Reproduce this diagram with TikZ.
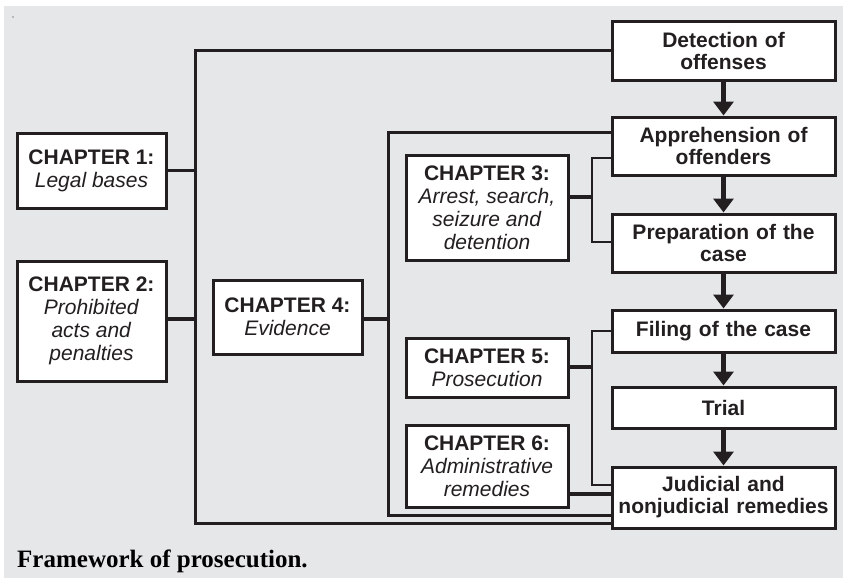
\documentclass[tikz,border=0pt]{standalone}
\usepackage{fontspec}
\setmainfont{Liberation Serif}
\newfontfamily\arialfont{Liberation Sans}
\usetikzlibrary{arrows.meta}
\definecolor{ink}{RGB}{35,31,32}
\definecolor{panel}{RGB}{230,231,233}
\begin{document}
\begin{tikzpicture}[x=1pt,y=-1pt,
  box/.style={draw=ink,fill=white,line width=3pt,inner sep=0pt,align=center,
    font=\arialfont\fontsize{21}{23}\selectfont,text=ink},
  stage/.style={box,minimum width=223pt,text width=215pt,font=\arialfont\bfseries\fontsize{21}{22}\selectfont},
  chapter/.style={box,minimum width=149pt},
  wide/.style={box,minimum width=162pt},
  link/.style={draw=ink,line width=3pt},
  thin/.style={draw=ink,line width=2.5pt},
  stem/.style={draw=ink,line width=3.5pt},
  flow/.style={draw=ink,line width=5pt,-{Triangle[width=20pt,length=14pt]}}]
\useasboundingbox (0,0) rectangle (843,578);
\fill[panel] (4,6) rectangle (843,578);
\fill[ink] (13,17) circle (0.7);

% process stages
\node[stage,minimum height=58pt] (det) at (723.5,51) {Detection of\\offenses};
\node[stage,minimum height=58pt] (app) at (723.5,146) {Apprehension of\\offenders};
\node[stage,minimum height=58pt] (prep) at (723.5,243) {Preparation of the\\case};
\node[stage,minimum height=42pt] (fil) at (723.5,331) {Filing of the case};
\node[stage,minimum height=41pt] (trial) at (723.5,407.5) {Trial};
\node[stage,minimum height=61pt] (jud) at (723.5,497.5) {Judicial and\\nonjudicial remedies};

% chapters
\node[chapter,minimum height=75pt] (ch1) at (91.5,170.5) {\textbf{CHAPTER 1:}\\\textit{Legal bases}};
\node[chapter,minimum height=120pt] (ch2) at (91.5,321) {\textbf{CHAPTER 2:}\\\textit{Prohibited}\\\textit{acts and}\\\textit{penalties}};
\node[chapter,minimum height=74pt] (ch4) at (287.5,317) {\textbf{CHAPTER 4:}\\\textit{Evidence}};
\node[wide,minimum height=105pt] (ch3) at (487,207.5) {\textbf{CHAPTER 3:}\\\textit{Arrest, search,}\\\textit{seizure and}\\\textit{detention}};
\node[wide,minimum height=59pt] (ch5) at (487,367.5) {\textbf{CHAPTER 5:}\\\textit{Prosecution}};
\node[wide,minimum height=82pt] (ch6) at (487,466) {\textbf{CHAPTER 6:}\\\textit{Administrative}\\\textit{remedies}};

% bracket corners
\coordinate (b1bot) at (195,523);
\coordinate (b2top) at (388,132);
\coordinate (b2bot) at (388,515);
\coordinate (b3top) at (592,158);
\coordinate (b3mid) at (592,197);
\coordinate (b3bot) at (592,242);
\coordinate (b5top) at (592,331);
\coordinate (b5mid) at (592,367);
\coordinate (b5bot) at (592,485);
\coordinate (c6) at (568,494);

% chapters 1 and 2: whole process
\draw[link] (det.west) -| (b1bot) -- (b1bot -| jud.west);
\draw[stem] (ch1.east) -- (ch1.east -| b1bot);
\draw[stem] (ch2.east |- 0,319) -- (b1bot |- 0,319);

% chapter 4: apprehension to remedies
\draw[link] (b2top -| app.west) -- (b2top) -- (b2bot) -- (b2bot -| jud.west);
\draw[stem] (ch4.east |- 0,319) -- (b2bot |- 0,319);

% chapter 3
\draw[thin] (b3top -| app.west) -- (b3top) -- (b3bot) -- (b3bot -| prep.west);
\draw[stem] (b3mid -| ch3.east) -- (b3mid);

% chapter 5
\draw[thin] (b5top -| fil.west) -- (b5top) -- (b5bot) -- (b5bot -| jud.west);
\draw[stem] (b5mid -| ch5.east) -- (b5mid);

% chapter 6
\draw[draw=ink,line width=4.5pt] (c6 -| ch6.east) -- (c6 -| jud.west);

% process flow
\draw[flow] (det.south) -- (app.north);
\draw[flow] (app.south) -- (prep.north);
\draw[flow] (prep.south) -- (fil.north);
\draw[flow] (fil.south) -- (trial.north);
\draw[flow] (trial.south) -- (jud.north);

\node[anchor=base west,inner sep=0pt,font=\bfseries\fontsize{25}{28}\selectfont,text=black] (cap) at (17,567) {Framework of prosecution.};
\end{tikzpicture}
\end{document}
